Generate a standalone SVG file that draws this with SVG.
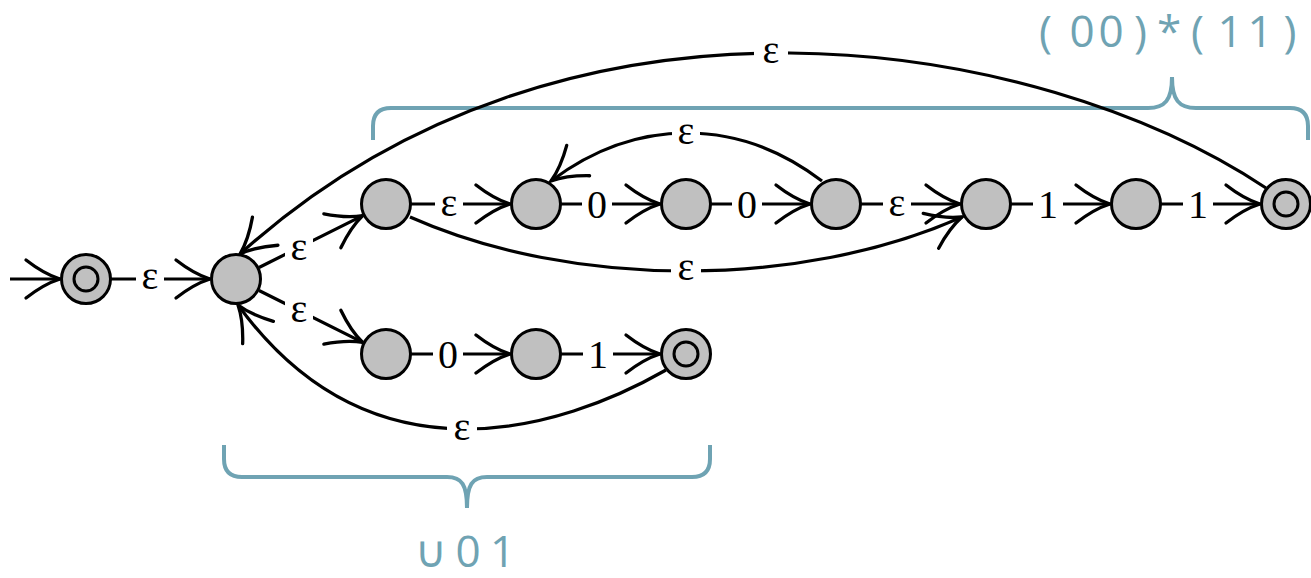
<svg xmlns="http://www.w3.org/2000/svg" width="1311" height="578" viewBox="0 0 1311 578">
<style>
.n{fill:#c0c0c0;stroke:#000;stroke-width:3}
.in{fill:none;stroke:#000;stroke-width:3}
.e{fill:none;stroke:#000;stroke-width:3.2;marker-end:url(#ah)}
.lb{fill:#fff}
.t{font-family:"Liberation Serif",serif;font-size:40px;text-anchor:middle;fill:#000}
.br{fill:none;stroke:#6fa3b3;stroke-width:4}
.bt{font-family:"Open Sans","DejaVu Sans",sans-serif;font-size:44px;fill:#6fa3b3;text-anchor:middle}
</style>
<defs>
<marker id="ah" viewBox="-40 -25 46 50" refX="0" refY="0" markerWidth="46" markerHeight="50" markerUnits="userSpaceOnUse" orient="auto" overflow="visible">
<path d="M-34,-19 Q-16,-5 0,0 Q-16,5 -34,19" fill="none" stroke="#000" stroke-width="3.3" stroke-linecap="round"/>
</marker>
</defs>
<rect width="1311" height="578" fill="#fff"/>
<g id="brackets">
<path class="br" d="M373,140 L373,126 Q373,108 391,108 L1148,108 C1165,108 1172,100 1172,77 C1172,100 1179,108 1196,108 L1290,108 Q1308,108 1308,126 L1308,140"/>
<text class="bt" x="1045.5 1082 1111 1140.5 1169 1197.5 1230 1260 1290" y="47">(00)*(11)</text>
<path class="br" d="M224,445 L224,459 Q224,477 242,477 L447,477 C462,477 467,485 467,508 C467,485 472,477 487,477 L692,477 Q710,477 710,459 L710,445"/>
<text class="bt" x="430.5 468 502.5" y="567">∪01</text>
</g>
<g id="connectors">
<path class="e" d="M10,279 H60"/>
<path class="e" d="M111,279 H210"/>
<path class="e" d="M259,267.5 L362.75,215.6"/>
<path class="e" d="M259,290.5 L362.75,342.4"/>
<path class="e" d="M411,204 H510"/>
<path class="e" d="M561,204 H660"/>
<path class="e" d="M711,204 H810"/>
<path class="e" d="M861,204 H960"/>
<path class="e" d="M1011,204 H1110"/>
<path class="e" d="M1161,204 H1260"/>
<path class="e" d="M411,354 H510"/>
<path class="e" d="M561,354 H660"/>
<path class="e" d="M822,181 C738,117 636,117 551,181"/>
<path class="e" d="M410,217 C572,289 800,289 962,217"/>
<path class="e" d="M1266,188 C1037,36 567,-42 240,254"/>
<path class="e" d="M666,370 C561,430 372,489 238,305"/>
<g id="labels">
<rect class="lb" x="136" y="265" width="28" height="28"/><text class="t" x="150" y="289">ε</text>
<rect class="lb" x="285" y="236" width="28" height="28"/><text class="t" x="299" y="260">ε</text>
<rect class="lb" x="285" y="298" width="28" height="28"/><text class="t" x="299" y="322">ε</text>
<rect class="lb" x="435" y="192" width="28" height="26"/><text class="t" x="449" y="216">ε</text>
<rect class="lb" x="582" y="192" width="30" height="26"/><text class="t" x="597" y="218">0</text>
<rect class="lb" x="732" y="192" width="30" height="26"/><text class="t" x="747" y="218">0</text>
<rect class="lb" x="883" y="192" width="28" height="26"/><text class="t" x="897" y="216">ε</text>
<rect class="lb" x="1033" y="192" width="30" height="26"/><text class="t" x="1048" y="218">1</text>
<rect class="lb" x="1183" y="192" width="30" height="26"/><text class="t" x="1198" y="218">1</text>
<rect class="lb" x="672" y="120" width="28" height="28"/><text class="t" x="686" y="144">ε</text>
<rect class="lb" x="671" y="256" width="30" height="28"/><text class="t" x="686" y="280">ε</text>
<rect class="lb" x="754" y="38" width="34" height="30"/><text class="t" x="771" y="63">ε</text>
<rect class="lb" x="447" y="416" width="30" height="28"/><text class="t" x="462" y="440">ε</text>
<rect class="lb" x="433" y="342" width="30" height="26"/><text class="t" x="448" y="368">0</text>
<rect class="lb" x="583" y="342" width="30" height="26"/><text class="t" x="598" y="368">1</text>
</g>
</g>
<g id="q0"><circle class="n" cx="86" cy="279" r="24.5"/><circle class="in" cx="86" cy="279" r="12"/></g>
<g id="q1"><circle class="n" cx="236" cy="279" r="24.5"/></g>
<g id="a1"><circle class="n" cx="386" cy="204" r="24.5"/></g>
<g id="a2"><circle class="n" cx="536" cy="204" r="24.5"/></g>
<g id="a3"><circle class="n" cx="686" cy="204" r="24.5"/></g>
<g id="a4"><circle class="n" cx="836" cy="204" r="24.5"/></g>
<g id="a5"><circle class="n" cx="986" cy="204" r="24.5"/></g>
<g id="a6"><circle class="n" cx="1136" cy="204" r="24.5"/></g>
<g id="a7"><circle class="n" cx="1286" cy="204" r="24.5"/><circle class="in" cx="1286" cy="204" r="12"/></g>
<g id="b1"><circle class="n" cx="386" cy="354" r="24.5"/></g>
<g id="b2"><circle class="n" cx="536" cy="354" r="24.5"/></g>
<g id="b3"><circle class="n" cx="686" cy="354" r="24.5"/><circle class="in" cx="686" cy="354" r="12"/></g>
</svg>
